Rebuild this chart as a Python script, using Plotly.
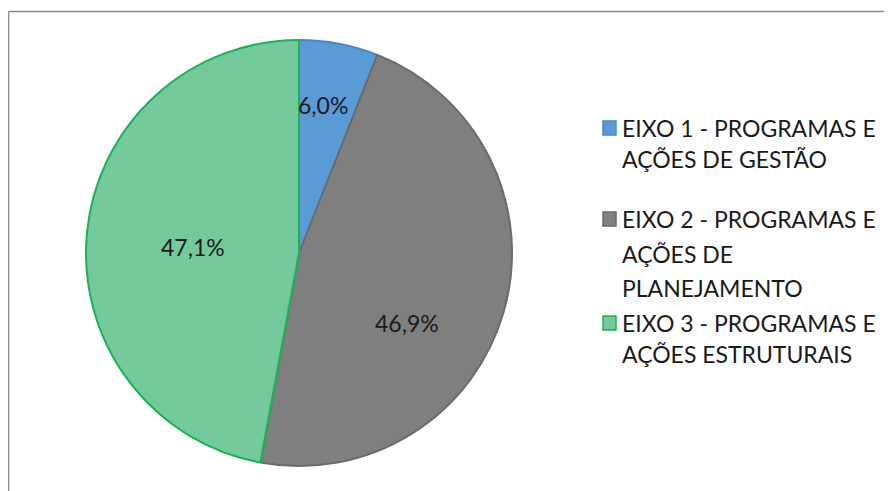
import plotly.graph_objects as go

labels = ["EIXO 1 - PROGRAMAS E AÇÕES DE GESTÃO",
          "EIXO 2 - PROGRAMAS E AÇÕES DE PLANEJAMENTO",
          "EIXO 3 - PROGRAMAS E AÇÕES ESTRUTURAIS"]
# how the legend text wraps in the original
legend_lines = [["EIXO 1 - PROGRAMAS E", "AÇÕES DE GESTÃO"],
                ["EIXO 2 - PROGRAMAS E", "AÇÕES DE", "PLANEJAMENTO"],
                ["EIXO 3 - PROGRAMAS E", "AÇÕES ESTRUTURAIS"]]
values = [6.0, 46.9, 47.1]

fills = ["#5B9BD5", "#7F7F7F", "#74CA9D"]
edges = ["#4A87C4", "#6B6B6B", "#1DB155"]

W, H = 892, 491
OFF = 8  # page body margin in the browser
FONT = "Lato"
FS = 23


def px(x):
    return (x - OFF) / W


def py(y):
    return 1 - (y - OFF) / H


fig = go.Figure(go.Pie(
    labels=labels, values=values, sort=False, direction="clockwise", rotation=0,
    marker=dict(colors=fills, line=dict(color=edges, width=2)),
    textinfo="none",
    domain=dict(x=[px(86), px(512)], y=[py(466), py(40)]),
    showlegend=False, hoverinfo="label+percent",
))

shapes = []
annotations = []

# slice labels placed like the original (best fit)
label_pos = [(323, 105), (407, 323), (193, 247)]
for v, (lx, ly) in zip(values, label_pos):
    annotations.append(dict(x=px(lx), y=py(ly), xref="paper", yref="paper", showarrow=False,
                            xanchor="center", yanchor="middle",
                            text=f"{v:.1f}%".replace(".", ","),
                            font=dict(family=FONT, size=FS, color="#1a1a1a")))

# legend drawn by hand so the spacing follows the original
line_y = [[128, 159], [219, 254, 288], [323, 354]]
for i, lines in enumerate(legend_lines):
    yc = line_y[i][0]
    shapes.append(dict(type="rect", xref="paper", yref="paper",
                       x0=px(603), x1=px(616), y0=py(yc + 7), y1=py(yc - 7),
                       fillcolor=fills[i], line=dict(color=edges[i], width=1.5)))
    for j, txt in enumerate(lines):
        annotations.append(dict(x=px(620), y=py(line_y[i][j]), xref="paper", yref="paper",
                                xanchor="left", yanchor="middle", showarrow=False, text=txt,
                                font=dict(family=FONT, size=FS, color="#1a1a1a")))

# chart area frame (only top and left edges are visible in the crop)
shapes.append(dict(type="line", xref="paper", yref="paper", x0=px(8.5), x1=1, y0=py(11.5), y1=py(11.5),
                   line=dict(color="#8c8c8c", width=1.5)))
shapes.append(dict(type="line", xref="paper", yref="paper", x0=px(8.5), x1=px(8.5), y0=0, y1=py(11.5),
                   line=dict(color="#8c8c8c", width=1.5)))

fig.update_layout(
    width=W, height=H, margin=dict(l=0, r=0, t=0, b=0),
    paper_bgcolor="white", plot_bgcolor="white",
    shapes=shapes, annotations=annotations,
)

fig.write_html("out.html")
